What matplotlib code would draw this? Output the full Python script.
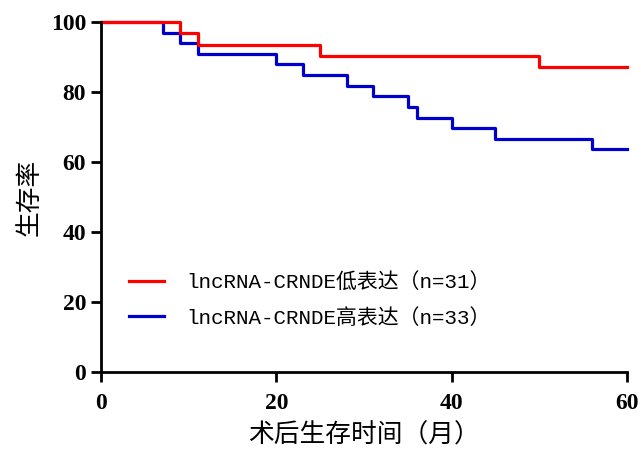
import matplotlib.pyplot as plt

# Kaplan-Meier steps (months, % survival)
low_t = [0, 9, 11, 25, 50, 60]
low_s = [100, 96.8, 93.5, 90.3, 87.1, 87.1]
high_t = [0, 7, 9, 11, 20, 23, 28, 31, 35, 36, 40, 45, 56, 60]
high_s = [100, 97.0, 93.9, 90.9, 87.9, 84.8, 81.8, 78.8, 75.8, 72.7, 69.7, 66.7, 63.6, 63.6]
labels = ['lncRNA-CRNDE低表达（n=31）', 'lncRNA-CRNDE高表达（n=33）']
xticks = [0, 20, 40, 60]
yticks = [0, 20, 40, 60, 80, 100]

cjk = ['Noto Sans CJK SC', 'DejaVu Sans']

fig = plt.figure(figsize=(6.41, 4.49), dpi=100)
ax = fig.add_axes([0.158, 0.171, 0.820, 0.780])

l2, = ax.step(high_t, high_s, where='post', color='#0000cc', lw=2.3, clip_on=False)
l1, = ax.step(low_t, low_s, where='post', color='#ff0000', lw=2.3, clip_on=False)

ax.set_xlim(0, 60)
ax.set_ylim(0, 100)
ax.set_xticks(xticks)
ax.set_yticks(yticks)
for s in ['top', 'right']:
    ax.spines[s].set_visible(False)
for s in ['left', 'bottom']:
    ax.spines[s].set_linewidth(2)
ax.tick_params(direction='out', length=7, width=2, pad=4)
ax.tick_params(axis='x', pad=8)
for lab in ax.get_xticklabels() + ax.get_yticklabels():
    lab.set_fontfamily('Liberation Serif')
    lab.set_fontweight('bold')
    lab.set_fontsize(17)

ax.set_xlabel('术后生存时间（月）', family=cjk, fontsize=18.5, fontweight='light', labelpad=6)
ax.set_ylabel('生存率', family=cjk, fontsize=18.5, fontweight='light', labelpad=6)

leg = ax.legend([l1, l2], labels, loc='center left', bbox_to_anchor=(0.017, 0.206),
                frameon=False, handlelength=1.7, handletextpad=1.05, labelspacing=0.75,
                prop={'family': ['Liberation Mono', 'Noto Sans CJK SC'], 'size': 15})

fig.savefig('out.png', dpi=100)
